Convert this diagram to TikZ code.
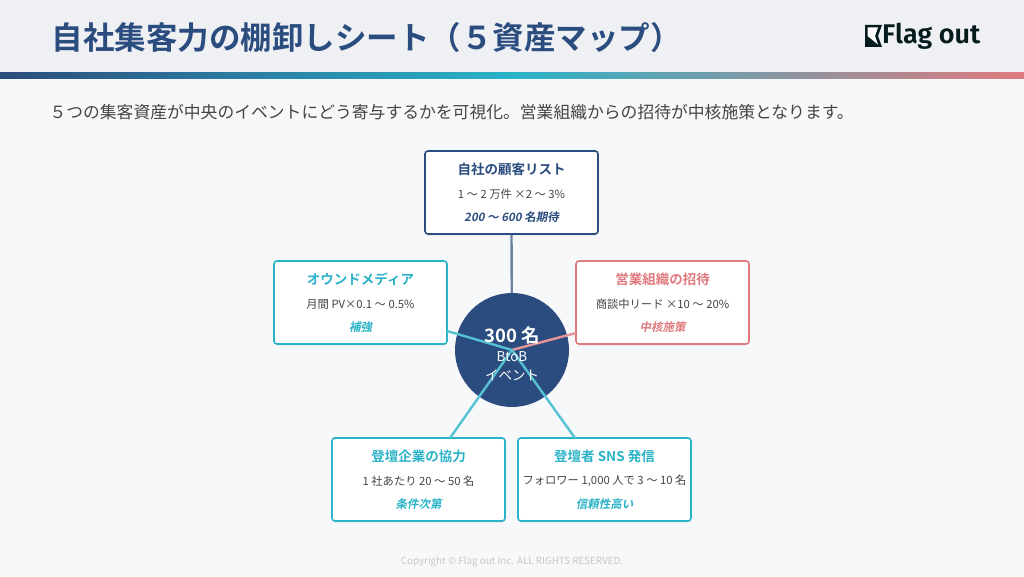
\documentclass[tikz,border=0pt]{standalone}
\usepackage{fontspec}
\setmainfont{Noto Sans CJK JP}
\newfontfamily\boldf{Noto Sans CJK JP Bold}
\newfontfamily\slantf[FakeSlant=0.2]{Noto Sans CJK JP Bold}
\newfontfamily\logof{Fira Sans SemiBold}
\usetikzlibrary{shadows}
\definecolor{navy}{HTML}{2B4C7E}
\definecolor{teal}{HTML}{2AB3C8}
\definecolor{coral}{HTML}{E07A7E}
\definecolor{hdr}{HTML}{EEF0F4}
\definecolor{bodybg}{HTML}{F7F8FA}
\definecolor{txt}{HTML}{444444}
\tikzset{
  card/.style={draw=#1, line width=1.6pt, fill=white, rounded corners=3pt, minimum width=173pt, minimum height=83pt,
    drop shadow={shadow xshift=0pt, shadow yshift=-2pt, opacity=0.08}},
  link/.style={draw=#1, line width=2.4pt},
}
\newcommand{\cardtext}[4]{%
  \node[font=\boldf\fontsize{13.5}{16}\selectfont, text=#1] at ([yshift=-19]#2.north) {#3};
  \node[font=\fontsize{11.3}{13}\selectfont, text=txt] at ([yshift=-44]#2.north) {#4};
}
\begin{document}
\begin{tikzpicture}[x=1pt,y=-1pt]
\useasboundingbox (0,0) rectangle (1024,577);
\fill[bodybg] (0,0) rectangle (1024,577);
\fill[hdr] (0,0) rectangle (1024,73);
\shade[left color=navy, right color=teal] (0,73) rectangle (512,79);
\shade[left color=teal, right color=coral] (512,73) rectangle (1024,79);
\node[anchor=west, font=\boldf\fontsize{31.5}{34}\selectfont, text=navy] (title) at (48,38) {自社集客力の棚卸しシート（５資産マップ）};
% logo
\fill[black!85!teal] (865,25) -- (882,25) -- (878,36) -- (882,47) -- (865,47) -- cycle;
\fill[white] (867.5,27.5) -- (878,27.5) -- (875,36) -- (878,44.5) -- (867.5,36) -- cycle;
\node[anchor=west, font=\logof\fontsize{27}{30}\selectfont, text=black!85!teal, inner sep=0] (logo) at (882,36) {Flag out};
\node[anchor=west, font=\fontsize{16.8}{19}\selectfont, text=txt] (sub) at (46,112) {５つの集客資産が中央のイベントにどう寄与するかを可視化。営業組織からの招待が中核施策となります。};
% circle
\coordinate (c) at (512,350);
\node[card=navy] (top) at (511.5,192.5) {};
\node[card=teal] (left) at (360.5,302.5) {};
\node[card=coral] (right) at (662.5,302.5) {};
\node[card=teal] (bl) at (418.5,479.5) {};
\node[card=teal] (br) at (604.5,479.5) {};
\draw[link=navy!70!white] (top.south) -- (c);
\node[circle, fill=navy, minimum size=114pt, inner sep=0] (hub) at (c) {};
\draw[link=teal!80!white] (447,331) -- (c);
\draw[link=coral!80!white] (576,333) -- (c);
\draw[link=teal!80!white] (450,438) -- (c);
\draw[link=teal!80!white] (575,438) -- (c);
\node[font=\boldf\fontsize{18.5}{20}\selectfont, text=white] (n300) at (512,335) {300 名};
\node[font=\fontsize{13.5}{13}\selectfont, text=white] (ev1) at (512,357) {BtoB};
\node[font=\fontsize{13.5}{13}\selectfont, text=white] (ev2) at (512,375) {イベント};
\cardtext{navy}{top}{自社の顧客リスト}{1 〜 2 万件 ×2 〜 3\%}
\node[font=\slantf\fontsize{11.5}{13}\selectfont, text=navy] at ([yshift=-67]top.north) {200 〜 600 名期待};
\cardtext{teal}{left}{オウンドメディア}{月間 PV×0.1 〜 0.5\%}
\node[font=\slantf\fontsize{11.5}{13}\selectfont, text=teal] at ([yshift=-67]left.north) {補強};
\cardtext{coral}{right}{営業組織の招待}{商談中リード ×10 〜 20\%}
\node[font=\slantf\fontsize{11.5}{13}\selectfont, text=coral] at ([yshift=-67]right.north) {中核施策};
\cardtext{teal}{bl}{登壇企業の協力}{1 社あたり 20 〜 50 名}
\node[font=\slantf\fontsize{11.5}{13}\selectfont, text=teal] at ([yshift=-67]bl.north) {条件次第};
\cardtext{teal}{br}{登壇者 SNS 発信}{フォロワー 1,000 人で 3 〜 10 名}
\node[font=\slantf\fontsize{11.5}{13}\selectfont, text=teal] at ([yshift=-67]br.north) {信頼性高い};
\node[font=\fontsize{9.8}{11}\selectfont, text=black!22] (copy) at (512,562) {Copyright © Flag out Inc. ALL RIGHTS RESERVED.};
\end{tikzpicture}
\end{document}
